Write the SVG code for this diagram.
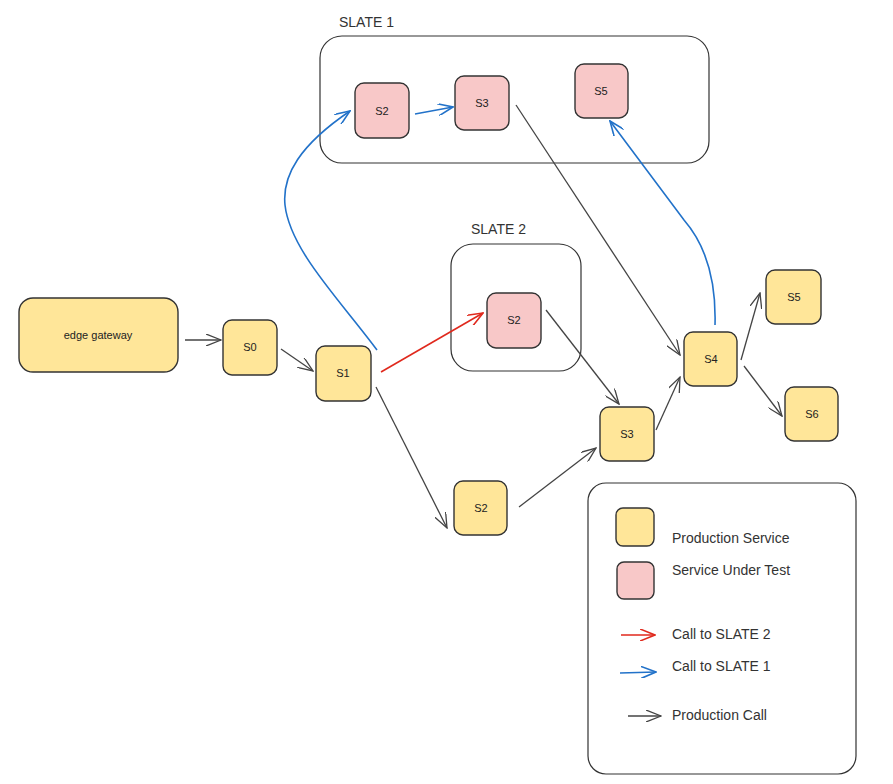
<svg xmlns="http://www.w3.org/2000/svg" width="893" height="784" viewBox="0 0 893 784">
<defs>
<style>
.prod{fill:#FFE699;stroke:#333;stroke-width:1.4}
.test{fill:#F8C8C8;stroke:#333;stroke-width:1.4}
.box{fill:none;stroke:#333;stroke-width:1.2}
.lbl{font-family:"Liberation Sans",Arial,sans-serif;font-size:11px;fill:#222;text-anchor:middle;dominant-baseline:central}
.big{font-family:"Liberation Sans",Arial,sans-serif;font-size:14px;fill:#333}
.c{fill:none;stroke:#444;stroke-width:1.3}
.r{fill:none;stroke:#E0291D;stroke-width:1.6}
.b{fill:none;stroke:#2272C9;stroke-width:1.6}
</style>
<marker id="ak" viewBox="0 0 16 12" refX="15" refY="6" markerWidth="16" markerHeight="12" markerUnits="userSpaceOnUse" orient="auto"><path d="M0,0 L15,6 L0,12" fill="none" stroke="#444" stroke-width="1.3"/></marker>
<marker id="ar" viewBox="0 0 16 12" refX="15" refY="6" markerWidth="16" markerHeight="12" markerUnits="userSpaceOnUse" orient="auto"><path d="M0,0 L15,6 L0,12" fill="none" stroke="#E0291D" stroke-width="1.6"/></marker>
<marker id="ab" viewBox="0 0 16 12" refX="15" refY="6" markerWidth="16" markerHeight="12" markerUnits="userSpaceOnUse" orient="auto"><path d="M0,0 L15,6 L0,12" fill="none" stroke="#2272C9" stroke-width="1.6"/></marker>
</defs>
<rect width="893" height="784" fill="#fff"/>

<g id="slate1">
<rect class="box" x="320" y="36" width="389" height="127" rx="22"/>
<text class="big" x="339" y="27">SLATE 1</text>
</g>
<g id="slate2">
<rect class="box" x="451" y="244" width="130" height="127" rx="22"/>
<text class="big" x="471" y="234">SLATE 2</text>
</g>

<g id="connectors">
<path class="c" d="M185,340 L221,340" marker-end="url(#ak)"/>
<path class="c" d="M281,349 L313,371" marker-end="url(#ak)"/>
<path class="b" d="M377,350 C340,300 290,250 285,205 C282,175 300,145 350,111" marker-end="url(#ab)"/>
<path class="b" d="M415,114 L453,107" marker-end="url(#ab)"/>
<path class="c" d="M516,105 L680,355" marker-end="url(#ak)"/>
<path class="r" d="M381,372 L483,313" marker-end="url(#ar)"/>
<path class="c" d="M376,387 L447,528" marker-end="url(#ak)"/>
<path class="c" d="M546,310 L619,404" marker-end="url(#ak)"/>
<path class="c" d="M519,507 L596,448" marker-end="url(#ak)"/>
<path class="c" d="M656,430 L680,377" marker-end="url(#ak)"/>
<path class="b" d="M715,325 C716,290 710,250 684,220 L610,121" marker-end="url(#ab)"/>
<path class="c" d="M741,360 L760,293" marker-end="url(#ak)"/>
<path class="c" d="M744,366 L782,416" marker-end="url(#ak)"/>
</g>

<g id="edge-gateway"><rect class="prod" x="19" y="298" width="159" height="74" rx="14"/><text class="lbl" x="98" y="335">edge gateway</text></g>
<g id="s0"><rect class="prod" x="223" y="320" width="54" height="55" rx="9"/><text class="lbl" x="250" y="347">S0</text></g>
<g id="s1"><rect class="prod" x="316" y="346" width="55" height="55" rx="9"/><text class="lbl" x="343" y="373">S1</text></g>
<g id="s1-s2"><rect class="test" x="355" y="83" width="54" height="55" rx="9"/><text class="lbl" x="382" y="111">S2</text></g>
<g id="s1-s3"><rect class="test" x="455" y="76" width="54" height="54" rx="9"/><text class="lbl" x="482" y="103">S3</text></g>
<g id="s1-s5"><rect class="test" x="575" y="64" width="53" height="54" rx="9"/><text class="lbl" x="601" y="91">S5</text></g>
<g id="s2-s2"><rect class="test" x="487" y="293" width="54" height="55" rx="9"/><text class="lbl" x="514" y="320">S2</text></g>
<g id="s3"><rect class="prod" x="600" y="407" width="54" height="54" rx="9"/><text class="lbl" x="627" y="434">S3</text></g>
<g id="s4"><rect class="prod" x="684" y="332" width="53" height="54" rx="9"/><text class="lbl" x="711" y="359">S4</text></g>
<g id="s5"><rect class="prod" x="766" y="270" width="55" height="54" rx="9"/><text class="lbl" x="794" y="297">S5</text></g>
<g id="s6"><rect class="prod" x="785" y="387" width="53" height="54" rx="9"/><text class="lbl" x="812" y="414">S6</text></g>
<g id="s2"><rect class="prod" x="454" y="481" width="53" height="54" rx="9"/><text class="lbl" x="481" y="508">S2</text></g>

<g id="legend">
<rect class="box" x="588" y="483" width="268" height="291" rx="18"/>
<rect class="prod" x="616" y="508" width="38" height="38" rx="7"/>
<rect class="test" x="617" y="562" width="37" height="37" rx="7"/>
<text class="big" x="672" y="543">Production Service</text>
<text class="big" x="672" y="575">Service Under Test</text>
<path class="r" d="M621,635 L655,635" marker-end="url(#ar)"/>
<text class="big" x="672" y="639">Call to SLATE 2</text>
<path class="b" d="M620,673 L656,672" marker-end="url(#ab)"/>
<text class="big" x="672" y="671">Call to SLATE 1</text>
<path class="c" d="M628,716 L661,716" marker-end="url(#ak)"/>
<text class="big" x="672" y="720">Production Call</text>
</g>
</svg>
